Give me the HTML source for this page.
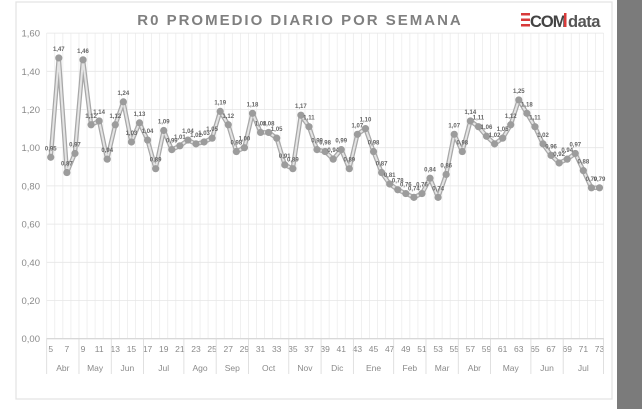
<!DOCTYPE html>
<html><head><meta charset="utf-8"><style>
html,body{margin:0;padding:0;background:#fff;width:642px;height:409px;overflow:hidden}
svg{display:block;font-family:"Liberation Sans",sans-serif}
</style></head><body>
<svg width="642" height="409" xmlns="http://www.w3.org/2000/svg">
<rect x="0" y="0" width="642" height="409" fill="#fff"/>
<rect x="617" y="0" width="25" height="409" fill="#7b7b7b"/>
<rect x="16" y="2" width="596" height="397" fill="#fff" stroke="#e2e2e2" stroke-width="1.2"/>
<text x="300" y="25" text-anchor="middle" font-size="15" font-weight="bold" fill="#808080" letter-spacing="2">R0 PROMEDIO DIARIO POR SEMANA</text>
<g>
<rect x="521" y="13" width="9" height="2.5" fill="#d83a3a"/>
<rect x="521" y="18.5" width="9" height="2.5" fill="#d83a3a"/>
<rect x="521" y="24" width="9" height="2.5" fill="#d83a3a"/>
<text x="530" y="27" font-size="16.5" font-weight="bold" fill="#444" letter-spacing="-1">COM</text>
<rect x="564" y="13" width="2.5" height="14" fill="#d83a3a"/>
<text x="568" y="27" font-size="16.5" font-weight="bold" fill="#555" letter-spacing="-0.5">data</text>
</g>
<g id="grid"></g>
<g id="axis"></g>
<g id="series"></g>
<script>
var d=[0.95,1.47,0.87,0.97,1.46,1.12,1.14,0.94,1.12,1.24,1.03,1.13,1.04,0.89,1.09,0.99,1.01,1.04,1.02,1.03,1.05,1.19,1.12,0.98,1.00,1.18,1.08,1.08,1.05,0.91,0.89,1.17,1.11,0.99,
0.98,0.94,0.99,0.89,1.07,1.10,0.98,0.87,0.81,0.78,0.76,0.74,0.76,0.84,0.74,0.86,1.07,0.98,1.14,1.11,1.06,1.02,1.05,1.12,1.25,1.18,1.11,1.02,0.96,0.92,0.94,0.97,0.88,0.79,0.79];
var NS="http://www.w3.org/2000/svg";
function el(t,a,p,txt){var e=document.createElementNS(NS,t);for(var k in a)e.setAttribute(k,a[k]);if(txt!=null)e.textContent=txt;document.getElementById(p).appendChild(e);return e;}
var L=46.7,W=8.07;
function X(i){return L+W*(i+0.5);}
function Y(v){return 338.7-191*v;}
var g="grid";
for(var i=0;i<=69;i++){var x=L+W*i;el("line",{x1:x,y1:33,x2:x,y2:338,stroke:"#ececec","stroke-width":0.8},g);}
for(var v=0;v<=8;v++){var y=Y(v*0.2);el("line",{x1:L,y1:y,x2:L+W*69,y2:y,stroke:"#e6e6e6","stroke-width":0.8},g);
el("text",{x:40,y:y+3.5,"text-anchor":"end","font-size":"9.5",fill:"#8a8a8a"},"axis",(v*0.2).toFixed(2).replace(".",","));}
el("line",{x1:L,y1:338.7,x2:L+W*69,y2:338.7,stroke:"#d0d0d0","stroke-width":1},"axis");
for(var i=0;i<69;i+=2){el("text",{x:X(i),y:352,"text-anchor":"middle","font-size":"8.5",fill:"#8a8a8a"},"axis",String(i+5));}
var m=[["Abr",5,8],["May",9,12],["Jun",13,16],["Jul",17,21],["Ago",22,25],["Sep",26,29],["Oct",30,34],["Nov",35,38],["Dic",39,42],["Ene",43,47],["Feb",48,51],["Mar",52,55],["Abr",56,59],["May",60,64],["Jun",65,68],["Jul",69,73]];
m.forEach(function(q){var a=L+W*(q[1]-5),b=L+W*(q[2]-4);
el("line",{x1:a,y1:338,x2:a,y2:374,stroke:"#d8d8d8","stroke-width":0.8},"axis");
el("text",{x:(a+b)/2,y:371,"text-anchor":"middle","font-size":"8.5",fill:"#8a8a8a"},"axis",q[0]);});
el("line",{x1:L+W*69,y1:338,x2:L+W*69,y2:374,stroke:"#d8d8d8","stroke-width":0.8},"axis");
var pts=d.map(function(v,i){return X(i).toFixed(1)+","+Y(v).toFixed(1)}).join(" ");
el("polyline",{points:pts,fill:"none",stroke:"#a8a8a8","stroke-width":4.5,"stroke-linejoin":"round"},"series");
el("polyline",{points:pts,fill:"none",stroke:"#e4e4e4","stroke-width":2,"stroke-linejoin":"round"},"series");
d.forEach(function(v,i){el("circle",{cx:X(i),cy:Y(v),r:3.6,fill:"#9c9c9c"},"series");
el("text",{x:X(i),y:Y(v)-7,"text-anchor":"middle","font-size":"6","font-weight":"bold",fill:"#666"},"series",v.toFixed(2).replace(".",","));});
</script>
</svg>
</body></html>
